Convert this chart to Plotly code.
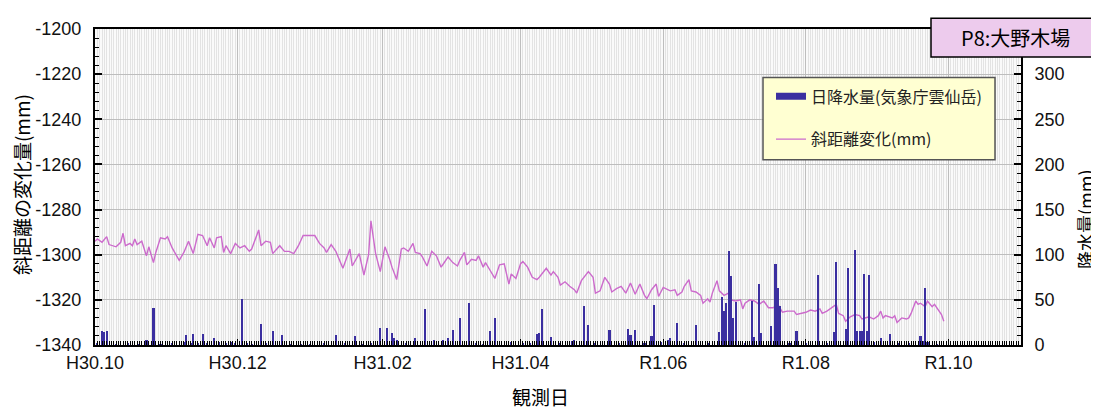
import pandas as pd
import plotly.graph_objects as go

# ---------------- data ----------------
start_date = "2018-10-01"          # day 0 of the offsets below

line_day = [0, 1, 3, 5, 6, 9, 11, 12, 13, 15, 16, 17, 18, 20, 22, 23, 25, 26, 28, 30,
            31, 33, 36, 38, 40, 42, 44, 46, 48, 49, 51, 52, 54, 55, 56, 58, 60, 62, 64, 66,
            67, 70, 71, 73, 75, 76, 79, 81, 83, 85, 87, 89, 94, 96, 98, 99, 101, 103, 106, 109,
            110, 113, 115, 117, 118, 120, 122, 124, 126, 127, 129, 131, 132, 134, 136, 137, 139, 140, 142, 144,
            146, 148, 149, 151, 153, 155, 156, 158, 159, 161, 163, 164, 166, 167, 169, 171, 173, 175, 177, 178,
            180, 182, 183, 185, 187, 189, 190, 193, 195, 196, 198, 199, 201, 203, 205, 206, 208, 211, 213, 214,
            216, 218, 220, 221, 223, 225, 227, 229, 231, 233, 235, 236, 238, 240, 241, 243, 246, 248, 249, 251,
            252, 254, 255, 257, 259, 260, 262, 263, 264, 266, 267, 269, 271, 272, 274, 276, 277, 278, 280, 282,
            284, 286, 288, 290, 292, 294, 296, 299, 300, 302, 304, 306, 308, 310, 311, 313, 315, 317, 318, 320,
            321, 323, 325, 327, 328, 331, 333, 335, 336, 337, 338, 341, 342, 343, 345, 347, 348, 349, 351, 352,
            353, 355, 356, 358, 359, 361, 362, 363]
line_mm = [-1294, -1293, -1294.5, -1292, -1295.5, -1296.5, -1294.5, -1290.5, -1296, -1295, -1296, -1293, -1295.5, -1294, -1300.5, -1296.5, -1303.5, -1299, -1292.5, -1293,
           -1292, -1297, -1302.5, -1299, -1294, -1299.5, -1291, -1291.5, -1296, -1292.5, -1297, -1292.5, -1292, -1299, -1296, -1299.5, -1295, -1297, -1296, -1298.5,
           -1297.5, -1289, -1296, -1294, -1294.5, -1299.5, -1296, -1298.5, -1298.5, -1299.5, -1296, -1291.5, -1291.5, -1295, -1297, -1299, -1295.5, -1298.5, -1306, -1297.5,
           -1305, -1299.5, -1309, -1300, -1285, -1299.5, -1307.5, -1296.5, -1302, -1305.5, -1311, -1297.5, -1297, -1298.5, -1295, -1299, -1299.5, -1301, -1305, -1298.5,
           -1300.5, -1305.5, -1304, -1301, -1303.5, -1305, -1302.5, -1299, -1304.5, -1302, -1302.5, -1300.5, -1305.5, -1303.5, -1307, -1310.5, -1304.5, -1304, -1313, -1308.5,
           -1310.5, -1304, -1303, -1305.5, -1310, -1311, -1310, -1306, -1309, -1307.5, -1310, -1313.5, -1312, -1314, -1315.5, -1317, -1311.5, -1307.5, -1310, -1317,
           -1316, -1310, -1313, -1316.5, -1315, -1314, -1317, -1312.5, -1317.5, -1313, -1318, -1319.5, -1315.5, -1313, -1318.5, -1314.5, -1316, -1315.5, -1318, -1316.5,
           -1314, -1311, -1316, -1316.5, -1318, -1321.5, -1319.5, -1321, -1317, -1311.5, -1316, -1318, -1317, -1320, -1320.5, -1320, -1324, -1321.5, -1320, -1320.5,
           -1322, -1320.5, -1323.5, -1323.5, -1322, -1325.5, -1325, -1325, -1326.5, -1326, -1325.5, -1324.5, -1325, -1324, -1326, -1325, -1323.5, -1322, -1326, -1327,
           -1329.5, -1327.5, -1326.5, -1327, -1328.5, -1327.5, -1328.5, -1327, -1325, -1328, -1327, -1328, -1327, -1330, -1328, -1328.5, -1328, -1326, -1320.5, -1322,
           -1321.5, -1323, -1320.5, -1323, -1322, -1325, -1326.5, -1329.5]

rain_day = [1, 3, 4, 5, 9, 14, 19, 22, 25, 28, 33, 38, 39, 41, 42, 44, 46, 48, 51, 53,
            56, 58, 60, 63, 65, 67, 71, 73, 76, 80, 84, 88, 92, 98, 103, 107, 111, 114, 118, 122,
            125, 127, 128, 129, 133, 137, 141, 145, 149, 151, 153, 156, 160, 163, 166, 169, 171, 178, 183, 186,
            189, 190, 191, 195, 199, 204, 205, 209, 211, 214, 220, 224, 228, 229, 231, 235, 238, 239, 242, 245,
            246, 249, 252, 257, 262, 267, 268, 269, 270, 271, 272, 273, 274, 278, 281, 282, 284, 285, 289, 291,
            292, 293, 297, 300, 304, 309, 313, 316, 317, 321, 322, 325, 326, 327, 328, 329, 330, 331, 333, 336,
            340, 344, 348, 353, 354, 355, 356, 360]
rain_mm = [2, 15, 14, 16, 1, 2, 1, 5, 41, 1, 2, 3, 11, 2, 12, 2, 12, 2, 8, 3,
           2, 3, 2, 51, 2, 1, 23, 2, 15, 11, 1, 1, 1, 2, 11, 2, 10, 1, 2, 19,
           19, 13, 8, 6, 2, 8, 40, 5, 6, 8, 17, 30, 46, 2, 1, 15, 30, 3, 2, 2,
           12, 13, 40, 9, 2, 4, 5, 43, 22, 2, 17, 2, 18, 11, 17, 2, 10, 44, 3, 5,
           8, 24, 2, 22, 2, 14, 53, 38, 46, 104, 76, 30, 48, 2, 49, 9, 68, 13, 21, 90,
           63, 43, 2, 16, 2, 77, 2, 14, 92, 18, 85, 105, 15, 16, 16, 79, 15, 78, 3, 8,
           12, 2, 2, 10, 4, 63, 3, 1]

tick_dates = ["2018-10-01", "2018-12-01", "2019-02-01", "2019-04-01",
              "2019-06-01", "2019-08-01", "2019-10-01"]
tick_text = ["H30.10", "H30.12", "H31.02", "H31.04", "R1.06", "R1.08", "R1.10"]

left_ticks = [-1340, -1320, -1300, -1280, -1260, -1240, -1220, -1200]
left_text = ["-1340", "-1320", "-1300", "-1280", "-1260", "-1240", "-1220", "-1200"]
right_ticks = [0, 50, 100, 150, 200, 250, 300]

name_rain = "日降水量(気象庁雲仙岳)"
name_line = "斜距離変化(mm)"
title_text = "P8:大野木場"

# ---------------- figure ----------------
t0 = pd.Timestamp(start_date)
line_x = [t0 + pd.Timedelta(days=d) for d in line_day]
rain_x = [t0 + pd.Timedelta(days=d) for d in rain_day]

FONT = "Liberation Sans, Arial, Noto Sans CJK JP, sans-serif"
CJK = "Noto Sans CJK JP, sans-serif"
BAR_C = "#3B2FA0"
LINE_C = "#CC6ACC"

fig = go.Figure()
fig.add_trace(go.Bar(x=rain_x, y=rain_mm, yaxis="y2", marker=dict(color=BAR_C, line=dict(width=0)),
                     width=0.9 * 86400000, showlegend=False, name=name_rain))
fig.add_trace(go.Scatter(x=line_x, y=line_mm, mode="lines", line=dict(color=LINE_C, width=1.4),
                         showlegend=False, name=name_line))
# legend entries
fig.add_trace(go.Scatter(x=[None], y=[None], mode="lines", line=dict(color=BAR_C, width=7),
                         name=name_rain, legendgroup="a"))
fig.add_trace(go.Scatter(x=[None], y=[None], mode="lines", line=dict(color=LINE_C, width=1.4),
                         name=name_line, legendgroup="b"))

OFF = 8                       # page body margin
W, H = 1099 - OFF, 410 - OFF
L, T = 95 - OFF, 19 - OFF
R = W - (1021 - OFF)
B = H - (345 - OFF)
pw, ph = W - L - R, H - T - B

def px(x):   # page pixel -> paper
    return (x - OFF - L) / pw

def py(y):
    return (H - B - (y - OFF)) / ph

fig.update_layout(
    width=W, height=H,
    margin=dict(l=L, r=R, t=T, b=B, pad=0),
    paper_bgcolor="white", plot_bgcolor="#FAFAFA",
    font=dict(family=FONT, size=18, color="#111"),
    bargap=0,
    xaxis=dict(type="date", range=["2018-10-01", "2019-11-01"],
               tickmode="array", tickvals=tick_dates, ticktext=tick_text,
               ticks="inside", ticklen=6, tickcolor="black", tickwidth=1,
               showline=True, linecolor="black", linewidth=2, mirror=True,
               showgrid=True, gridcolor="#BEBEBE", gridwidth=1,
               tickfont=dict(size=18, family=FONT),
               minor=dict(tickmode="linear", tick0="2018-10-01", dtick=86400000,
                          ticks="inside", ticklen=4, tickcolor="black", tickwidth=1,
                          showgrid=True, gridcolor="#E3E3E3", gridwidth=1),
               zeroline=False),
    yaxis=dict(range=[-1340, -1200], tickmode="array", tickvals=left_ticks, ticktext=left_text,
               ticks="inside", ticklen=7, tickcolor="black", tickwidth=1.5,
               showline=True, linecolor="black", linewidth=2,
               showgrid=True, gridcolor="#BDBDBD", gridwidth=1.2,
               tickfont=dict(size=18, family=FONT), ticklabelstandoff=8,
               minor=dict(tickmode="linear", tick0=-1340, dtick=4, ticks="inside",
                          ticklen=4, tickcolor="black", tickwidth=1, showgrid=False),
               zeroline=False),
    yaxis2=dict(range=[0, 350], overlaying="y", side="right", tickmode="array",
                tickvals=right_ticks, ticks="inside", ticklen=7, tickcolor="black", tickwidth=1.5,
                showline=True, linecolor="black", linewidth=2, showgrid=False,
                tickfont=dict(size=18, family=FONT), ticklabelstandoff=8,
                minor=dict(tickmode="linear", tick0=0, dtick=10, ticks="inside",
                           ticklen=4, tickcolor="black", tickwidth=1, showgrid=False),
                zeroline=False),
    legend=dict(x=px(771), y=py(71), xanchor="left", yanchor="top",
                bgcolor="rgba(0,0,0,0)", borderwidth=0,
                font=dict(family=CJK, size=16, color="#222"),
                traceorder="grouped", tracegroupgap=19, itemwidth=30),
    shapes=[
        dict(type="rect", xref="paper", yref="paper", x0=px(763), x1=px(995), y0=py(154), y1=py(69),
             fillcolor="#FFFFD2", line=dict(color="#555555", width=1.5), layer="above"),
        dict(type="rect", xref="paper", yref="paper", x0=px(931), x1=px(1110), y0=py(48), y1=py(8),
             fillcolor="#EDCBED", line=dict(color="black", width=1.5), layer="above"),
    ],
    annotations=[
        dict(text=title_text, xref="paper", yref="paper", x=px(1015), y=py(28),
             showarrow=False, font=dict(family=CJK, size=20, color="black"),
             xanchor="center", yanchor="middle"),
        dict(text="斜距離の変化量(mm)", xref="paper", yref="paper", x=px(21), y=py(180),
             showarrow=False, textangle=-90, font=dict(family=CJK, size=19, color="black"),
             xanchor="center", yanchor="middle"),
        dict(text="降水量(mm)", xref="paper", yref="paper", x=px(1085), y=py(215),
             showarrow=False, textangle=-90, font=dict(family=CJK, size=18, color="black"),
             xanchor="center", yanchor="middle"),
        dict(text="観測日", xref="paper", yref="paper", x=px(540), y=py(398),
             showarrow=False, font=dict(family=CJK, size=19, color="black"),
             xanchor="center", yanchor="middle"),
    ],
)

fig.write_html("out.html")
